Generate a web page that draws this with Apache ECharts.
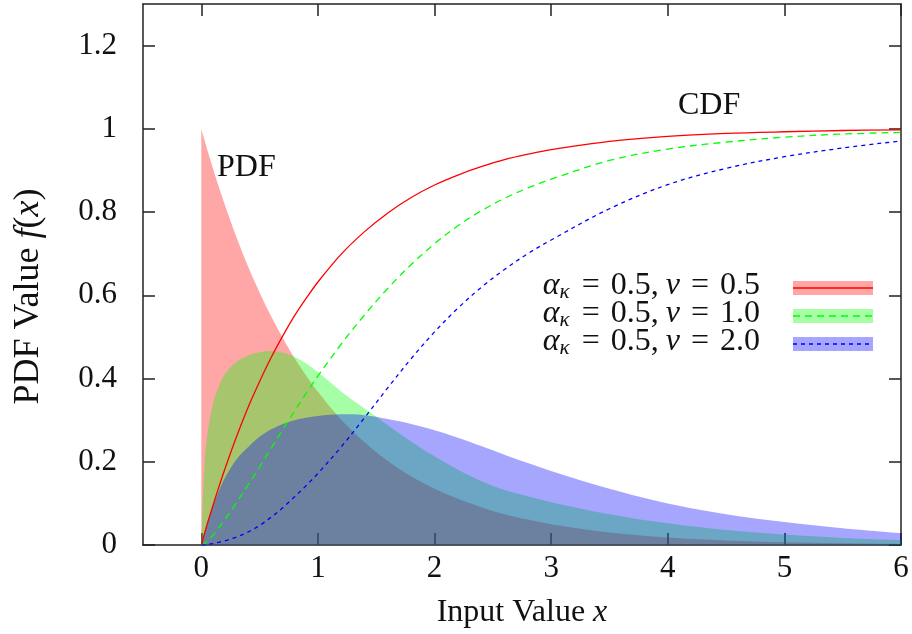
<!DOCTYPE html>
<html>
<head>
<meta charset="utf-8">
<script src="https://cdn.jsdelivr.net/npm/echarts@6/dist/echarts.min.js"></script>
<style>
html,body{margin:0;padding:0;background:#fff;}
#chart{width:912px;height:634px;}
</style>
</head>
<body>
<div id="chart"></div>
<script>
// ---- data ----
const xs       = [0,0.025,0.05,0.1,0.15,0.2,0.3,0.4,0.5,0.6,0.7,0.8,0.9,1.0,1.2,1.4,1.6,1.8,2.0,2.2,2.4,2.6,2.8,3.0,3.5,4.0,4.5,5.0,5.5,6.0];
const pdfRed   = [1.000,0.975,0.951,0.905,0.861,0.819,0.741,0.670,0.607,0.549,0.497,0.449,0.407,0.368,0.301,0.247,0.202,0.165,0.135,0.111,0.091,0.074,0.061,0.050,0.030,0.018,0.011,0.0067,0.0041,0.0025];
const pdfGreen = [0,0.18,0.26,0.34,0.38,0.41,0.44,0.455,0.463,0.466,0.462,0.452,0.436,0.415,0.369,0.328,0.288,0.249,0.213,0.181,0.154,0.132,0.117,0.103,0.074,0.052,0.036,0.025,0.017,0.012];
const pdfBlue  = [0,0.03,0.055,0.095,0.13,0.16,0.205,0.235,0.26,0.278,0.291,0.300,0.306,0.310,0.314,0.312,0.303,0.291,0.276,0.258,0.238,0.217,0.197,0.178,0.135,0.100,0.074,0.055,0.040,0.028];
const cdfRed   = [0,0.025,0.049,0.095,0.139,0.181,0.259,0.330,0.393,0.451,0.503,0.551,0.593,0.632,0.699,0.753,0.798,0.835,0.865,0.889,0.909,0.926,0.939,0.950,0.970,0.982,0.989,0.993,0.996,0.9975];
const cdfGreen = [0,0.003,0.0085,0.0235,0.041,0.060,0.101,0.144,0.188,0.233,0.278,0.322,0.365,0.406,0.483,0.553,0.617,0.674,0.724,0.767,0.803,0.833,0.858,0.879,0.924,0.9515,0.968,0.980,0.9875,0.9915];
const cdfBlue  = [0,0.0003,0.0012,0.0035,0.0065,0.010,0.019,0.031,0.047,0.067,0.090,0.116,0.143,0.172,0.236,0.306,0.378,0.448,0.512,0.569,0.619,0.662,0.700,0.733,0.808,0.866,0.905,0.933,0.954,0.971];
const xTicks = [0,1,2,3,4,5,6];
const yTicks = [0,0.2,0.4,0.6,0.8,1,1.2];
const legendNu = ['0.5','1.0','2.0'];
const alphaK = '0.5';

// ---- styling ----
const FONT = 'Liberation Serif';
const colors = ['#ff0000','#00ff00','#0000ff'];
const dashes = [null,[7,5],[4,4]];

function pairs(ys){ return xs.map((x,i)=>[x,ys[i]]); }

const chart = echarts.init(document.getElementById('chart'), null, {renderer:'canvas'});

const pdfs = [pdfRed,pdfGreen,pdfBlue];
const cdfs = [cdfRed,cdfGreen,cdfBlue];
const series = [];
pdfs.forEach((d,i)=>{
  series.push({
    type:'line', data:pairs(d), symbol:'none', smooth:0.35,
    lineStyle:{width:0, opacity:0},
    areaStyle:{color:colors[i], opacity:0.35},
    z:1, silent:true
  });
});
cdfs.forEach((d,i)=>{
  series.push({
    type:'line', data:pairs(d), symbol:'none', smooth:0.35,
    lineStyle:{width:1.3, color:colors[i], type: dashes[i] ? dashes[i] : 'solid'},
    z:3, silent:true
  });
});

const axisLineStyle = {show:true, onZero:false, lineStyle:{color:'#222', width:1.5}};
const tickStyle = {show:true, inside:true, length:12, lineStyle:{color:'#222', width:1.5}};
const labelStyle = {fontFamily:FONT, fontSize:31, color:'#111'};

const legendGraphics = [];
legendNu.forEach((nu,i)=>{
  const yc = 288 + 28*i;
  legendGraphics.push({
    type:'text', z:10,
    style:{
      x:767, y:yc-2, align:'right', verticalAlign:'middle',
      text:'{a|α}{s|κ}{e|=}{n|0.5,}{a|ν}{e|=}{n|'+nu+'}',
      fill:'#111',
      rich:{
        a:{fontFamily:FONT, fontStyle:'italic', fontSize:32, lineHeight:34, fill:'#111'},
        s:{fontFamily:FONT, fontStyle:'italic', fontSize:21, lineHeight:20, verticalAlign:'bottom', fill:'#111', padding:[0,1,0,0]},
        e:{fontFamily:FONT, fontSize:32, lineHeight:34, fill:'#111', padding:[0,11,0,11]},
        n:{fontFamily:FONT, fontSize:32, lineHeight:34, fill:'#111', padding:[0,7,0,0]}
      }
    }
  });
  legendGraphics.push({type:'rect', z:10, shape:{x:793, y:yc-7, width:80, height:14},
    style:{fill:colors[i], opacity:0.35}});
  legendGraphics.push({type:'line', z:11, shape:{x1:793, y1:yc, x2:873, y2:yc},
    style:{stroke:colors[i], lineWidth:1.3, lineDash: dashes[i] || null}});
});

const xNameRich = {
  r:{fontFamily:FONT, fontSize:32, color:'#111'},
  i:{fontFamily:FONT, fontSize:32, fontStyle:'italic', color:'#111'}
};
const yNameRich = {
  r:{fontFamily:FONT, fontSize:36, color:'#111'},
  i:{fontFamily:FONT, fontSize:36, fontStyle:'italic', color:'#111'}
};

const option = {
  animation:false,
  backgroundColor:'#fff',
  grid:{left:143, right:11, top:4, bottom:89, containLabel:false},
  xAxis:[{
    type:'value', min:-0.5, max:6, position:'bottom',
    axisLine:axisLineStyle,
    axisTick:Object.assign({}, tickStyle, {customValues:xTicks}),
    axisLabel:Object.assign({}, labelStyle, {customValues:xTicks, margin:8}),
    splitLine:{show:false},
    name:'{r|Input Value }{i|x}', nameLocation:'middle', nameGap:52,
    nameTextStyle:{rich:xNameRich}
  },{
    type:'value', min:-0.5, max:6, position:'top',
    axisLine:axisLineStyle,
    axisTick:Object.assign({}, tickStyle, {customValues:xTicks}),
    axisLabel:{show:false}, splitLine:{show:false}
  }],
  yAxis:[{
    type:'value', min:0, max:1.3, position:'left',
    axisLine:axisLineStyle,
    axisTick:Object.assign({}, tickStyle, {customValues:yTicks}),
    axisLabel:Object.assign({}, labelStyle, {customValues:yTicks, margin:26}),
    splitLine:{show:false},
    name:'{r|PDF Value }{i|f}{r|(}{i|x}{r|)}', nameLocation:'middle', nameGap:96, nameRotate:90,
    nameTextStyle:{rich:yNameRich, padding:[0,44,0,0]}
  },{
    type:'value', min:0, max:1.3, position:'right',
    axisLine:axisLineStyle,
    axisTick:Object.assign({}, tickStyle, {customValues:yTicks}),
    axisLabel:{show:false}, splitLine:{show:false}
  }],
  series:series,
  graphic:[
    {type:'text', z:10, style:{x:217, y:168, text:'PDF', align:'left', verticalAlign:'middle',
      fontFamily:FONT, fontSize:32, fill:'#111'}},
    {type:'text', z:10, style:{x:678, y:106, text:'CDF', align:'left', verticalAlign:'middle',
      fontFamily:FONT, fontSize:32, fill:'#111'}}
  ].concat(legendGraphics)
};
chart.setOption(option);
</script>
</body>
</html>
